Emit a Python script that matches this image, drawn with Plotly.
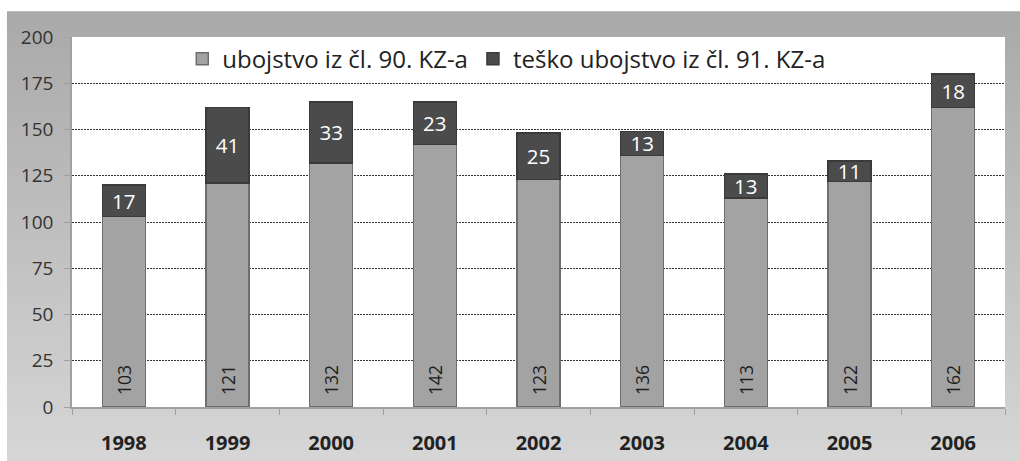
import plotly.graph_objects as go

years = ["1998", "1999", "2000", "2001", "2002", "2003", "2004", "2005", "2006"]
ubojstvo = [103, 121, 132, 142, 123, 136, 113, 122, 162]
tesko = [17, 41, 33, 23, 25, 13, 13, 11, 18]
series_names = ["ubojstvo iz čl. 90. KZ-a", "teško ubojstvo iz čl. 91. KZ-a"]
y_ticks = [0, 25, 50, 75, 100, 125, 150, 175, 200]

FONT = "Open Sans"
PAD = "\u00a0\u00a0"

fig = go.Figure()
fig.add_trace(go.Bar(
    x=years, y=ubojstvo, name=series_names[0],
    marker=dict(color="#a3a3a3", line=dict(color="#6e6e6e", width=1.5)),
    text=[PAD + str(v) for v in ubojstvo], textposition="inside",
    insidetextanchor="start", textangle=-90, constraintext="none",
    insidetextfont=dict(family=FONT, size=17.5, color="#1e1e1e"),
))
fig.add_trace(go.Bar(
    x=years, y=tesko, name=series_names[1],
    marker=dict(color="#4b4b4b", line=dict(color="#3a3a3a", width=1.5)),
    text=[str(v) for v in tesko], textposition="inside",
    insidetextanchor="middle", textangle=0, constraintext="none",
    insidetextfont=dict(family=FONT, size=20.5, color="#ffffff"),
))

# gradient grey frame background
shapes = []
n = 60
y_top, y_bot = 1.0676, -0.146
c_top, c_bot = 0xa9, 0xd6
for i in range(n):
    ya = y_top - (y_top - y_bot) * i / n
    yb = y_top - (y_top - y_bot) * (i + 1) / n
    c = round(c_top + (c_bot - c_top) * (i + 0.5) / n)
    col = f"rgb({c},{c},{c})"
    shapes.append(dict(type="rect", xref="paper", yref="paper",
                       x0=-0.0697, x1=1.02, y0=yb - 0.002, y1=ya + 0.002,
                       fillcolor=col, line=dict(width=0), layer="below"))
shapes.append(dict(type="rect", xref="paper", yref="paper",
                   x0=0, x1=1, y0=0, y1=1, fillcolor="white",
                   line=dict(width=0), layer="below"))

fig.update_layout(
    width=1020, height=461,
    margin=dict(l=72, r=15, t=37, b=54),
    paper_bgcolor="white", plot_bgcolor="rgba(0,0,0,0)",
    barmode="stack", bargap=0.585,
    shapes=shapes,
    showlegend=True,
    legend=dict(orientation="h", x=0.466, xanchor="center", y=0.94, yanchor="middle",
                font=dict(family=FONT, size=24, color="#222222"),
                bgcolor="rgba(0,0,0,0)", itemwidth=30, traceorder="normal"),
    font=dict(family=FONT, color="#333333"),
    xaxis=dict(type="category", tickfont=dict(family=FONT, size=20, color="#222222", weight="bold"),
               showline=True, linecolor="#a0a0a0", linewidth=1.5,
               ticks="outside", tickson="boundaries", ticklen=6, tickcolor="#a0a0a0",
               ticklabelstandoff=17, showgrid=False, automargin=False),
    yaxis=dict(range=[0, 200], tickvals=y_ticks, tickfont=dict(family=FONT, size=19, color="#333333"),
               showline=True, linecolor="#a0a0a0", linewidth=1.5,
               ticks="outside", ticklen=6, tickcolor="#a0a0a0", ticklabelstandoff=7,
               showgrid=True, gridcolor="#333333", griddash="2px,1px", gridwidth=1,
               zeroline=False, automargin=False),
)
fig.update_traces(cliponaxis=False)

fig.write_html("out.html", post_script="document.body.style.margin='0';",
               config={"displayModeBar": False})
